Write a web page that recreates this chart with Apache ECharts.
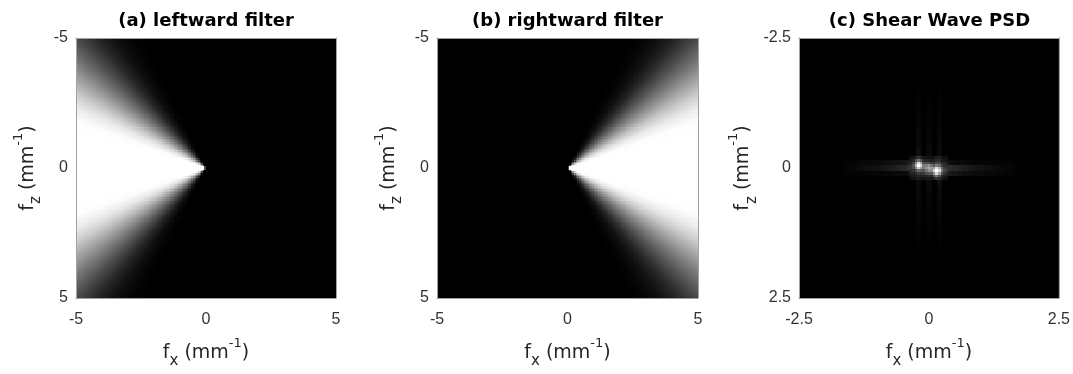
<!DOCTYPE html>
<html><head><meta charset="utf-8">
<script src="https://cdn.jsdelivr.net/npm/echarts@6/dist/echarts.min.js"></script>
<style>html,body{margin:0;padding:0;background:#fff;}#c{width:1073px;height:374px;}</style>
</head><body><div id="c"></div>
<script>
// ---- text ----
const panelTitles = ['(a) leftward filter', '(b) rightward filter', '(c) Shear Wave PSD'];
// ---- axis ranges / ticks ----
const filterRange = [-5, 5];
const filterTickStep = 5;
const psdRange = [-2.5, 2.5];
const psdTickStep = 2.5;

const filterAngles = [0, 5, 10, 15, 20, 25, 30, 35, 40, 45, 50, 55, 60, 65, 70, 75, 80, 85, 90];
const filterGain   = [1, 1, 1, 1, 0.99, 0.92, 0.79, 0.62, 0.45, 0.29, 0.15, 0.06, 0.015, 0, 0, 0, 0, 0, 0];

// ---- shear-wave PSD (normalised) ----
// horizontal streak rows
const psdRowX = [-1.6,-1.5,-1.4,-1.3,-1.2,-1.1,-1.0,-0.9,-0.8,-0.7,-0.6,-0.5,-0.4,-0.3,-0.2,-0.1,0,0.1,0.2,0.3,0.4,0.5,0.6,0.7,0.8,0.9,1.0,1.1,1.2,1.3,1.4,1.5,1.6];
const psdRowZ = [-0.1, 0, 0.1];
const psdRowAbove  = [0.01,0.015,0.02,0.025,0.03,0.035,0.04,0.045,0.05,0.06,0.07,0.08,0.10,0.12,0.14,0.12,0.10,0.08,0.07,0.06,0.05,0.04,0.035,0.03,0.025,0.02,0.02,0.015,0.015,0.01,0.01,0.01,0.01];
const psdRowCenter = [0.02,0.025,0.03,0.045,0.05,0.06,0.07,0.08,0.09,0.11,0.13,0.15,0.18,0.21,0.24,0.24,0.24,0.24,0.24,0.21,0.18,0.15,0.13,0.11,0.09,0.08,0.07,0.06,0.05,0.045,0.035,0.025,0.02];
const psdRowBelow  = [0.01,0.01,0.01,0.01,0.015,0.015,0.02,0.02,0.025,0.03,0.035,0.04,0.05,0.06,0.07,0.08,0.10,0.12,0.14,0.12,0.10,0.08,0.07,0.06,0.05,0.045,0.04,0.035,0.03,0.025,0.02,0.015,0.01];
// faint vertical streak columns
const psdColZ = [-1.5,-1.4,-1.3,-1.2,-1.1,-1.0,-0.9,-0.8,-0.7,-0.6,-0.5,-0.4,-0.3,-0.2,-0.1,0,0.1,0.2,0.3,0.4,0.5,0.6,0.7,0.8,0.9,1.0,1.1,1.2,1.3,1.4,1.5];
const psdColX = [-0.2, 0, 0.2];
const psdColLeft  = [0.005,0.01,0.015,0.015,0.02,0.02,0.02,0.025,0.03,0.03,0.035,0.04,0.06,0.08,0.14,0.16,0.09,0.06,0.045,0.035,0.03,0.03,0.025,0.02,0.02,0.02,0.015,0.015,0.01,0.01,0.005];
const psdColMid   = [0.005,0.005,0.01,0.01,0.01,0.015,0.015,0.015,0.02,0.02,0.02,0.03,0.035,0.05,0.09,0.16,0.09,0.05,0.035,0.03,0.02,0.02,0.02,0.015,0.015,0.015,0.01,0.01,0.01,0.005,0.005];
const psdColRight = [0.005,0.01,0.01,0.015,0.015,0.02,0.02,0.02,0.025,0.03,0.03,0.035,0.045,0.06,0.09,0.16,0.14,0.08,0.06,0.04,0.035,0.03,0.03,0.025,0.02,0.02,0.02,0.015,0.015,0.01,0.005];
// fine core around the three peaks
const psdCoreX = [-0.35,-0.3,-0.25,-0.2,-0.15,-0.1,-0.05,0,0.05,0.1,0.15,0.2,0.25,0.3,0.35];
const psdCoreZ = [-0.2,-0.15,-0.1,-0.05,0,0.05,0.1,0.15,0.2];
const psdCore = [
  [0.06,0.08,0.13,0.20,0.15,0.09,0.08,0.08,0.07,0.08,0.12,0.12,0.08,0.06,0.05],
  [0.10,0.14,0.30,0.45,0.34,0.17,0.14,0.14,0.12,0.12,0.17,0.17,0.11,0.09,0.08],
  [0.15,0.24,0.55,0.85,0.65,0.32,0.28,0.30,0.22,0.21,0.28,0.26,0.16,0.14,0.12],
  [0.20,0.32,0.70,0.98,0.85,0.48,0.50,0.58,0.44,0.36,0.48,0.42,0.24,0.18,0.16],
  [0.22,0.28,0.52,0.80,0.62,0.48,0.60,0.68,0.62,0.60,0.85,0.70,0.38,0.24,0.20],
  [0.16,0.20,0.28,0.40,0.36,0.34,0.46,0.56,0.55,0.82,1.00,0.86,0.48,0.28,0.22],
  [0.12,0.14,0.17,0.24,0.22,0.22,0.30,0.34,0.34,0.55,0.84,0.62,0.32,0.20,0.16],
  [0.08,0.09,0.11,0.15,0.14,0.13,0.15,0.17,0.17,0.28,0.46,0.32,0.17,0.11,0.09],
  [0.06,0.07,0.08,0.10,0.09,0.08,0.09,0.10,0.10,0.14,0.22,0.16,0.10,0.07,0.06]
];

// ---------- build tables ----------
const FN = 160, FSTEP = (filterRange[1] - filterRange[0]) / FN;
function gainAt(deg) {
  const d = filterAngles[1] - filterAngles[0];
  const i = Math.min(Math.floor(deg / d), filterAngles.length - 2);
  const t = (deg - filterAngles[i]) / d;
  return filterGain[i] * (1 - t) + filterGain[i + 1] * t;
}
function filterCells(sign) {
  const out = [];
  for (let i = 0; i < FN; i++) {
    const fx = filterRange[0] + (i + 0.5) * FSTEP;
    if (fx * sign <= 0) continue;
    for (let j = 0; j < FN; j++) {
      const fz = filterRange[0] + (j + 0.5) * FSTEP;
      const deg = Math.atan2(Math.abs(fz), Math.abs(fx)) * 180 / Math.PI;
      const g = gainAt(deg);
      if (g > 0) out.push([fx, fz, g]);
    }
  }
  return out;
}
const psdCoarse = [];
[psdColLeft, psdColMid, psdColRight].forEach((col, k) => {
  psdColZ.forEach((z, j) => psdCoarse.push([psdColX[k], z, col[j]]));
});
[psdRowAbove, psdRowCenter, psdRowBelow].forEach((row, k) => {
  psdRowX.forEach((x, i) => psdCoarse.push([x, psdRowZ[k], row[i]]));
});
const psdFine = [];
psdCoreZ.forEach((z, j) => psdCoreX.forEach((x, i) => psdFine.push([x, z, psdCore[j][i]])));

function cellRenderer(w, h) {
  return function (params, api) {
    const x = api.value(0), z = api.value(1);
    const p0 = api.coord([x - w / 2, z - h / 2]);
    const p1 = api.coord([x + w / 2, z + h / 2]);
    const x0 = Math.round(Math.min(p0[0], p1[0])), y0 = Math.round(Math.min(p0[1], p1[1]));
    const x1 = Math.round(Math.max(p0[0], p1[0])), y1 = Math.round(Math.max(p0[1], p1[1]));
    return {
      type: 'rect',
      shape: { x: x0, y: y0, width: Math.max(1, x1 - x0), height: Math.max(1, y1 - y0) },
      style: { fill: api.visual('color') }
    };
  };
}

// ---------- layout ----------
const FONT = "'Liberation Sans', Arial, Helvetica, sans-serif";
const NFONT = "'DejaVu Sans', sans-serif";
const grids = [
  { left: 76, top: 38, width: 260, height: 261 },
  { left: 437, top: 38, width: 261, height: 261 },
  { left: 799, top: 38, width: 261, height: 261 }
];
const ranges = [filterRange, filterRange, psdRange];
const steps = [filterTickStep, filterTickStep, psdTickStep];

const nameRich = {
  m: { fontSize: 19, lineHeight: 32, verticalAlign: 'middle', color: '#262626', fontFamily: NFONT },
  s: { fontSize: 15, lineHeight: 12, verticalAlign: 'bottom', color: '#262626', fontFamily: NFONT },
  p: { fontSize: 13, lineHeight: 20, verticalAlign: 'top', color: '#262626', fontFamily: NFONT }
};
const lineStyle = { color: '#a0a0a0', width: 1 };
const labelStyle = { color: '#333333', fontSize: 16, fontFamily: FONT };

const xAxes = [], yAxes = [];
grids.forEach((g, k) => {
  const r = ranges[k], st = steps[k];
  xAxes.push({
    type: 'value', gridIndex: k, position: 'bottom', min: r[0], max: r[1], interval: st, z: 5,
    axisLine: { show: true, onZero: false, lineStyle }, axisTick: { show: false }, splitLine: { show: false },
    axisLabel: Object.assign({ margin: 14, showMinLabel: true, showMaxLabel: true }, labelStyle),
    name: '{m|f}{s|x}{m| (mm}{p|-1}{m|)}', nameLocation: 'middle', nameGap: 39,
    nameTextStyle: { rich: nameRich }
  });
  xAxes.push({
    type: 'value', gridIndex: k, position: 'top', min: r[0], max: r[1], interval: st, z: 5,
    axisLine: { show: true, onZero: false, lineStyle }, axisTick: { show: false },
    axisLabel: { show: false }, splitLine: { show: false }
  });
  yAxes.push({
    type: 'value', gridIndex: k, position: 'left', inverse: true, min: r[0], max: r[1], interval: st, z: 5,
    axisLine: { show: true, onZero: false, lineStyle }, axisTick: { show: false }, splitLine: { show: false },
    axisLabel: Object.assign({ margin: 8, showMinLabel: true, showMaxLabel: true }, labelStyle),
    name: '{m|f}{s|z}{m| (mm}{p|-1}{m|)}', nameLocation: 'middle', nameGap: 32, nameRotate: 90,
    nameTextStyle: { rich: nameRich }
  });
  yAxes.push({
    type: 'value', gridIndex: k, position: 'right', inverse: true, min: r[0], max: r[1], interval: st, z: 5,
    axisLine: { show: true, onZero: false, lineStyle }, axisTick: { show: false },
    axisLabel: { show: false }, splitLine: { show: false }
  });
});

const cellSeries = (data, k, w, h) => ({
  type: 'custom', xAxisIndex: 2 * k, yAxisIndex: 2 * k, data, clip: true, silent: true, z: 2,
  encode: { x: 0, y: 1 }, renderItem: cellRenderer(w, h)
});

const chart = echarts.init(document.getElementById('c'), null, { renderer: 'canvas' });
chart.setOption({
  animation: false,
  backgroundColor: '#ffffff',
  title: panelTitles.map((t, k) => ({
    text: t, left: grids[k].left + grids[k].width / 2, top: 12, textAlign: 'center', padding: 0,
    textStyle: { fontSize: 18, fontWeight: 'bold', color: '#000', fontFamily: NFONT }
  })),
  grid: grids.map(g => Object.assign({ show: true, backgroundColor: '#000', borderWidth: 0 }, g)),
  xAxis: xAxes,
  yAxis: yAxes,
  visualMap: {
    type: 'continuous', show: false, min: 0, max: 1, dimension: 2, seriesIndex: [0, 1, 2, 3],
    inRange: { color: ['#000000', '#ffffff'] }
  },
  series: [
    cellSeries(filterCells(-1), 0, FSTEP, FSTEP),
    cellSeries(filterCells(1), 1, FSTEP, FSTEP),
    cellSeries(psdCoarse, 2, 0.1, 0.1),
    cellSeries(psdFine, 2, 0.05, 0.05)
  ]
});
</script></body></html>
